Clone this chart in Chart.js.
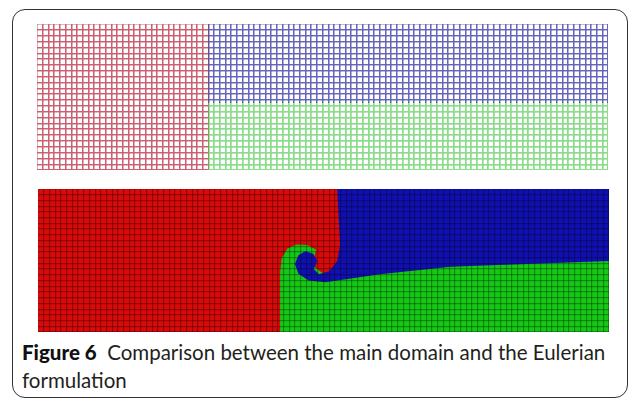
<!DOCTYPE html>
<html>
<head>
<meta charset="utf-8">
<script src="https://cdn.jsdelivr.net/npm/chart.js@4.4.1/dist/chart.umd.min.js"></script>
<style>
  body { margin: 0; background: #fff; width: 635px; height: 400px; overflow: hidden; position: relative; font-family: Lato, "Open Sans", sans-serif; }
  #frame { position: absolute; left: 12px; top: 9px; width: 616px; height: 389px; border: 1.5px solid #333; border-radius: 13px; box-sizing: border-box; }
  .panel { position: absolute; }
  #top { left: 37px; top: 24px; width: 571px; height: 146px; }
  #bottom { left: 38px; top: 189px; width: 571px; height: 143px; }
  #caption { position: absolute; left: 22px; top: 338px; font-size: 20.5px; line-height: 28px; color: #231f20; white-space: nowrap; }
  #caption b { font-weight: 900; color: #111; }
</style>
</head>
<body>
<div id="frame"></div>
<div class="panel" id="top"><canvas id="topChart"></canvas></div>
<div class="panel" id="bottom"><canvas id="bottomChart"></canvas></div>
<div id="caption"><b>Figure 6</b>&nbsp;&nbsp;Comparison between the main domain and the Eulerian<br>formulation</div>

<script>
// mesh size (cells)
const COLS = 100;
const ROWS = 25;

// main domain: initial regions (corner points in cell units)
const mainRed   = [[0, 0], [30, 0], [30, 25], [0, 25]];
const mainBlue  = [[30, 11.5], [100, 11.5], [100, 25], [30, 25]];
const mainGreen = [[30, 0], [100, 0], [100, 11.5], [30, 11.5]];

// eulerian formulation: red is background, then green, then blue on top
const eulerRed   = [[0, 0], [100, 0], [100, 25], [0, 25]];
const eulerGreen = [[42.4, 0], [42.4, 10.5], [42.7, 13.0], [43.7, 14.6], [45.2, 15.3], [47.2, 15.2],
                    [48.7, 14.4], [48.0, 11.7], [51.1, 9.3], [59.9, 10.7], [100, 13.1], [100, 0]];
const eulerBlue  = [[52.4, 25], [52.9, 15.2], [52.4, 12.4], [51.0, 10.6], [49.2, 10.1], [48.3, 11.0],
                    [48.9, 12.4], [48.2, 13.7], [46.8, 14.1], [45.6, 13.4], [45.0, 11.9], [45.6, 10.2],
                    [47.4, 9.0], [50.3, 8.7], [59.9, 10.1], [72.2, 11.4], [100, 12.4], [100, 25]];

function region(points, color, order) {
    const data = points.map(p => ({ x: p[0], y: p[1] }));
    data.push({ x: points[0][0], y: points[0][1] });
    return {
        data: data,
        order: order,
        showLine: true,
        fill: 'shape',
        backgroundColor: color,
        borderColor: color,
        borderWidth: 0,
        pointRadius: 0
    };
}

function meshAxis(max, color, width, z) {
    return {
        type: 'linear',
        min: 0,
        max: max,
        ticks: { display: false },
        border: { display: false },
        grid: { color: color, lineWidth: width, drawTicks: false, z: z },
        afterBuildTicks: axis => {
            const ticks = [];
            for (let i = 0; i <= max; i++) ticks.push({ value: i });
            axis.ticks = ticks;
        }
    };
}

// top panel: white canvas, black mesh, regions blended with "lighten"
// so only the mesh lines take the region colour
const lightenFill = {
    id: 'lightenFill',
    beforeDraw(chart) {
        const ctx = chart.ctx;
        ctx.save();
        ctx.fillStyle = '#ffffff';
        ctx.fillRect(0, 0, chart.width, chart.height);
        ctx.restore();
    },
    beforeDatasetsDraw(chart) {
        chart.ctx.save();
        chart.ctx.globalCompositeOperation = 'lighten';
    },
    afterDatasetsDraw(chart) {
        chart.ctx.restore();
    }
};

function makeChart(id, datasets, scales, plugins) {
    return new Chart(document.getElementById(id), {
        type: 'scatter',
        data: { datasets: datasets },
        options: {
            responsive: true,
            maintainAspectRatio: false,
            animation: false,
            layout: { padding: 0 },
            plugins: { legend: { display: false }, tooltip: { enabled: false } },
            scales: scales
        },
        plugins: plugins
    });
}

makeChart('topChart', [
    region(mainRed, '#d65a74', 1),
    region(mainBlue, '#6464c8', 2),
    region(mainGreen, '#86e086', 3)
], {
    x: meshAxis(COLS, '#000000', 1.3, 0),
    y: meshAxis(ROWS, '#000000', 1.3, 0)
}, [lightenFill]);

// bottom panel: solid fills (blue on top) with dark mesh lines over them
makeChart('bottomChart', [
    region(eulerBlue, '#1010b0', 1),
    region(eulerGreen, '#16c816', 2),
    region(eulerRed, '#d80a0a', 3)
], {
    x: meshAxis(COLS, 'rgba(0,0,0,0.3)', 1.2, 1),
    y: meshAxis(ROWS, 'rgba(0,0,0,0.3)', 1.2, 1)
}, []);
</script>
</body>
</html>
